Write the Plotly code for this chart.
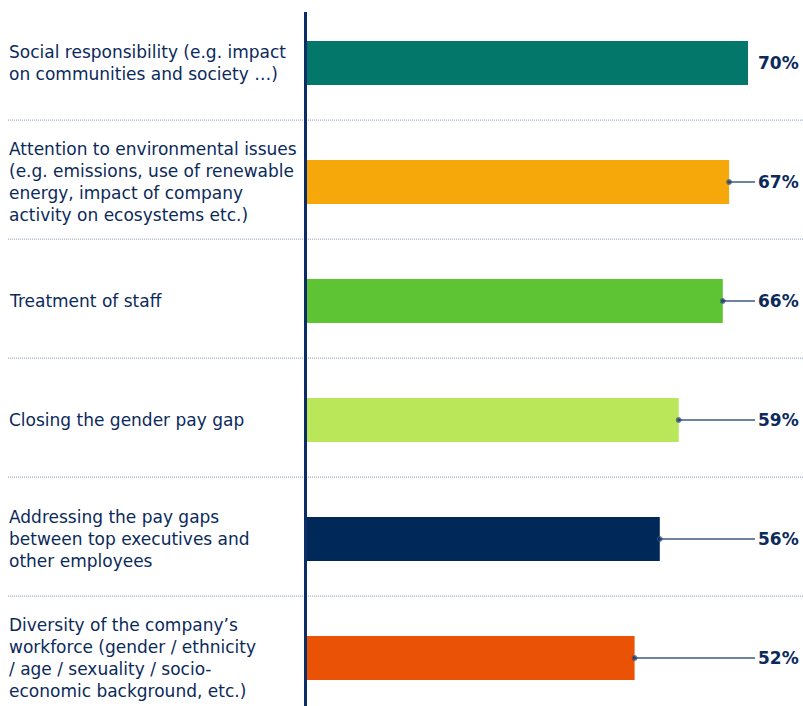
import plotly.graph_objects as go

categories = [
    "Social responsibility (e.g. impact<br>on communities and society …)",
    "Attention to environmental issues<br>(e.g. emissions, use of renewable<br>energy, impact of company<br>activity on ecosystems etc.)",
    "Treatment of staff",
    "Closing the gender pay gap",
    "Addressing the pay gaps<br>between top executives and<br>other employees",
    "Diversity of the company’s<br>workforce (gender / ethnicity<br>/ age / sexuality / socio-<br>economic background, etc.)",
]
values = [70, 67, 66, 59, 56, 52]
colors = ["#03776A", "#F6A80B", "#5EC434", "#BAE65A", "#002859", "#EA5206"]

NAVY = "#0B2A5B"
FONT = "DejaVu Sans"
W, H = 803, 706
x0_px = 307
px_per_unit = 6.3
xmax = (W - x0_px) / px_per_unit
row_px = 119
first_center = 63
y_top = -first_center / row_px
y_bot = (H - first_center) / row_px
label_end = (755 - x0_px) / px_per_unit
text_x = (756 - x0_px) / px_per_unit

idx = list(range(len(values)))
fig = go.Figure()
fig.add_trace(go.Bar(
    x=values, y=idx, orientation="h",
    marker=dict(color=colors, line=dict(width=0)),
    width=44 / row_px, hoverinfo="skip",
))

for i, v in enumerate(values):
    if v < 69:
        fig.add_trace(go.Scatter(
            x=[v, label_end], y=[i, i], mode="lines+markers",
            line=dict(color="#3B5A86", width=1.5),
            marker=dict(size=[5, 0], color=NAVY),
            hoverinfo="skip",
        ))
    fig.add_annotation(x=text_x, y=i, xref="x", yref="y", text=f"<b>{v}%</b>",
                       showarrow=False, xanchor="left", yanchor="middle",
                       font=dict(size=17, color=NAVY, family=FONT))
    fig.add_annotation(x=7 / W, y=i, xref="paper", yref="y", text=categories[i],
                       showarrow=False, xanchor="left", yanchor="middle", align="left",
                       font=dict(size=17, color=NAVY, family=FONT))

for i in range(len(values) - 1):
    fig.add_shape(type="line", xref="paper", yref="y", x0=8 / W, x1=1,
                  y0=i + 0.5 - 0.02, y1=i + 0.5 - 0.02,
                  line=dict(color="#8A9AB8", width=1, dash="1px,1px"), layer="below")

fig.add_shape(type="line", xref="paper", yref="paper", x0=305.5 / W, x1=305.5 / W,
              y0=0, y1=(H - 12) / H, line=dict(color="#0A2D66", width=3))

fig.update_layout(
    width=W, height=H, margin=dict(l=0, r=0, t=0, b=0),
    paper_bgcolor="white", plot_bgcolor="white", showlegend=False,
    xaxis=dict(domain=[x0_px / W, 1], range=[0, xmax], visible=False, fixedrange=True),
    yaxis=dict(range=[y_bot, y_top], visible=False, fixedrange=True),
)
fig.write_html("out.html", config={"displayModeBar": False},
               post_script="document.body.style.margin='0';")
